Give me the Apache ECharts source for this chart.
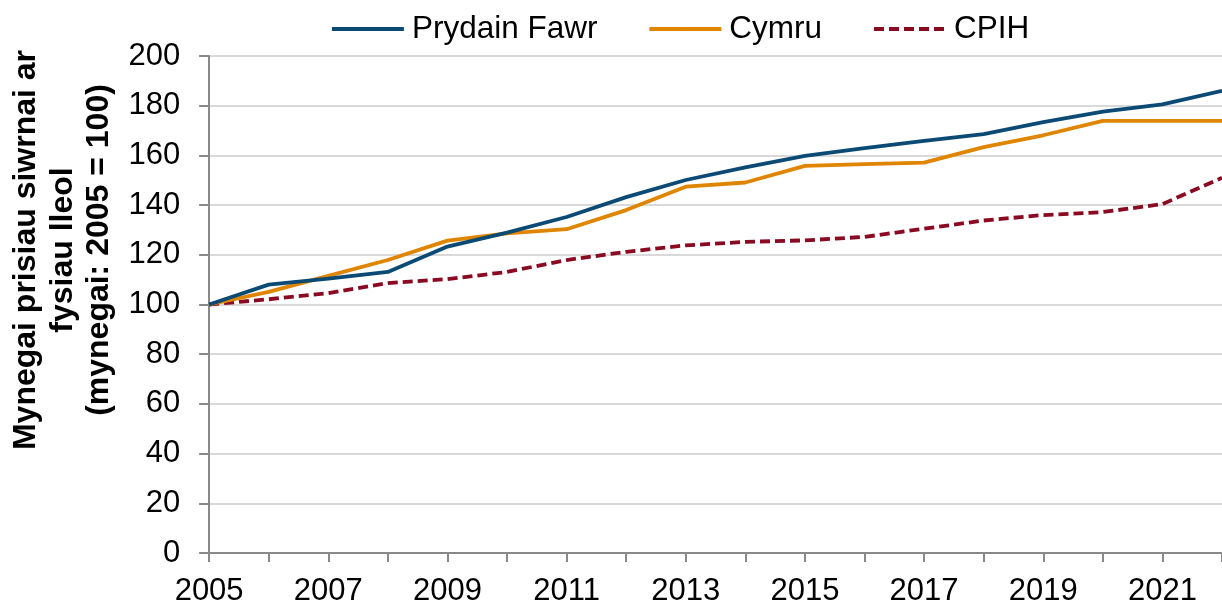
<!DOCTYPE html>
<html>
<head>
<meta charset="utf-8">
<script src="https://cdn.jsdelivr.net/npm/echarts@6/dist/echarts.min.js"></script>
<style>
  html, body { margin: 0; padding: 0; background: #fff; }
  #chart { width: 1222px; height: 607px; }
</style>
</head>
<body>
<div id="chart"></div>
<script>
// blynyddoedd
var years = ['2005', '2006', '2007', '2008', '2009', '2010', '2011', '2012', '2013',
             '2014', '2015', '2016', '2017', '2018', '2019', '2020', '2021', '2022'];
// Prydain Fawr
var gbValues = [100, 108, 110.4, 113.1, 123.3, 128.9, 135.2, 143.2, 150.1,
                155.2, 159.8, 162.9, 165.8, 168.6, 173.4, 177.6, 180.5, 186];
// Cymru
var walesValues = [100, 105.1, 111.5, 117.9, 125.7, 128.6, 130.3, 138, 147.4,
                   149.1, 155.8, 156.5, 157.1, 163.3, 168.1, 173.9, 173.9, 173.9];
// CPIH
var cpihValues = [100, 102.1, 104.6, 108.6, 110.2, 113.1, 117.9, 121.2, 123.8,
                  125.2, 125.8, 127.2, 130.5, 133.8, 136, 137.2, 140.4, 151];

var seriesNames = ['Prydain Fawr', 'Cymru', 'CPIH'];
var yTitle = 'Mynegai prisiau siwrnai ar\nfysiau lleol\n(mynegai: 2005 = 100)';

var font = '"Liberation Sans", Arial, sans-serif';
var chart = echarts.init(document.getElementById('chart'));

chart.setOption({
    animation: false,
    textStyle: { fontFamily: font },
    legend: {
        top: 8,
        left: 325,
        itemWidth: 72,
        itemHeight: 2,
        itemGap: 50,
        lineStyle: { width: 3.8 },
        textStyle: { fontSize: 31.5, color: '#000', fontFamily: font, padding: [0, 0, 0, 3] },
        data: seriesNames
    },
    grid: { left: 205, top: 56, right: -9, bottom: 52, containLabel: false },
    xAxis: {
        type: 'category',
        data: years,
        boundaryGap: false,
        axisLine: { lineStyle: { color: '#898989', width: 2 } },
        axisTick: { interval: 0, length: 9, lineStyle: { color: '#898989', width: 2 } },
        axisLabel: { interval: 1, fontSize: 31, color: '#000', margin: 23, fontFamily: font },
        splitLine: { show: false }
    },
    yAxis: {
        type: 'value',
        min: 0,
        max: 200,
        interval: 20,
        name: yTitle,
        nameLocation: 'middle',
        nameGap: 88,
        nameTextStyle: {
            fontSize: 32, fontWeight: 'bold', color: '#000', lineHeight: 36.5,
            fontFamily: font, padding: [0, 0, 0, 109]
        },
        axisLine: { show: true, lineStyle: { color: '#898989', width: 2 } },
        axisTick: { show: true, length: 10, lineStyle: { color: '#898989', width: 2 } },
        axisLabel: { fontSize: 31, color: '#000', margin: 29, fontFamily: font },
        splitLine: { lineStyle: { color: '#d9d9d9', width: 2 } }
    },
    series: [
        {
            name: seriesNames[0], type: 'line', data: gbValues,
            symbol: 'none', lineStyle: { color: '#0b4a75', width: 3.8 },
            itemStyle: { color: '#0b4a75' }, z: 3
        },
        {
            name: seriesNames[1], type: 'line', data: walesValues,
            symbol: 'none', lineStyle: { color: '#df8500', width: 3.8 },
            itemStyle: { color: '#df8500' }, z: 2
        },
        {
            name: seriesNames[2], type: 'line', data: cpihValues,
            symbol: 'none', lineStyle: { color: '#8a0a22', width: 3.8, type: [10, 5] },
            itemStyle: { color: '#8a0a22' }, z: 1
        }
    ]
});
</script>
</body>
</html>
